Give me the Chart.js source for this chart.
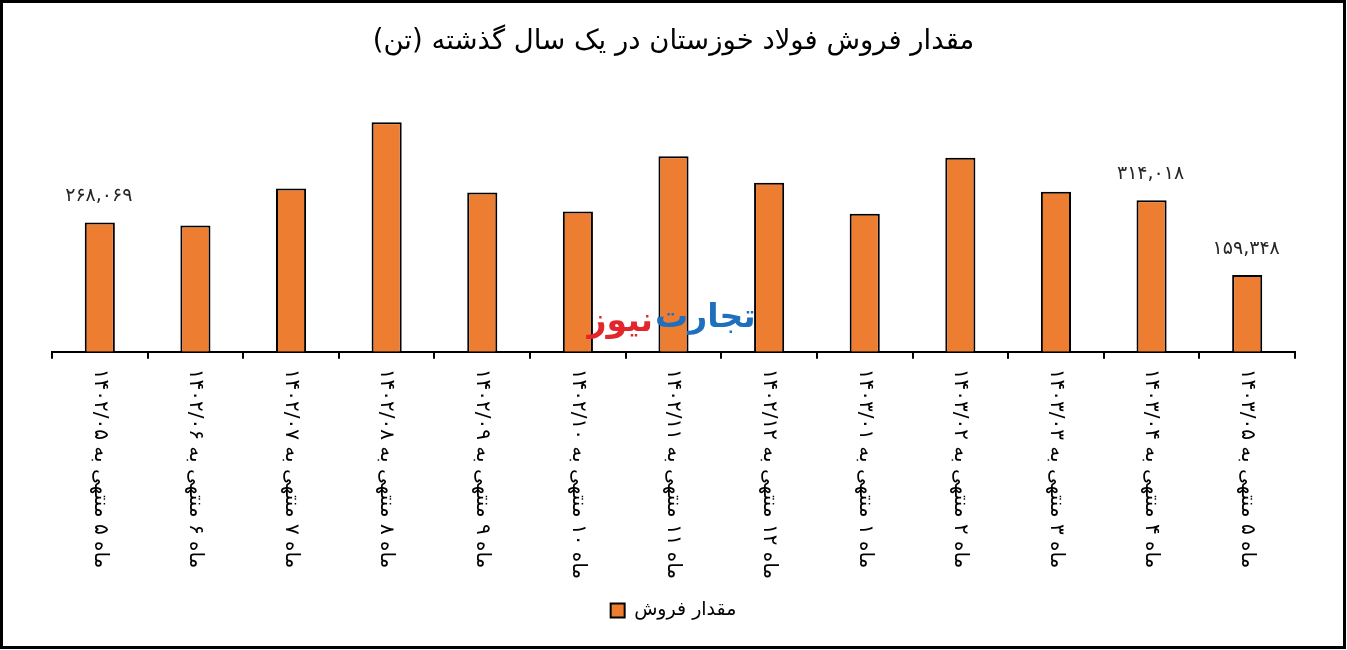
<!DOCTYPE html>
<html lang="fa">
<head>
<meta charset="utf-8">
<title>مقدار فروش فولاد خوزستان</title>
<script src="https://cdn.jsdelivr.net/npm/chart.js@4.4.1/dist/chart.umd.min.js"></script>
<style>
  html, body { margin: 0; padding: 0; background: #fff; overflow: hidden; }
  .chart-box { position: relative; width: 1347px; height: 650px; }
</style>
</head>
<body>
<div class="chart-box">
  <canvas id="sales"></canvas>
</div>
<script>
const TITLE = 'مقدار فروش فولاد خوزستان در یک سال گذشته (تن)';
const SERIES_NAME = 'مقدار فروش';

const categories = [
  'ماه ۵ منتهی به ۱۴۰۲/۰۵',
  'ماه ۶ منتهی به ۱۴۰۲/۰۶',
  'ماه ۷ منتهی به ۱۴۰۲/۰۷',
  'ماه ۸ منتهی به ۱۴۰۲/۰۸',
  'ماه ۹ منتهی به ۱۴۰۲/۰۹',
  'ماه ۱۰ منتهی به ۱۴۰۲/۱۰',
  'ماه ۱۱ منتهی به ۱۴۰۲/۱۱',
  'ماه ۱۲ منتهی به ۱۴۰۲/۱۲',
  'ماه ۱ منتهی به ۱۴۰۳/۰۱',
  'ماه ۲ منتهی به ۱۴۰۳/۰۲',
  'ماه ۳ منتهی به ۱۴۰۳/۰۳',
  'ماه ۴ منتهی به ۱۴۰۳/۰۴',
  'ماه ۵ منتهی به ۱۴۰۳/۰۵'
];

// tons; only three bars carry a printed value in the source
const salesValues = [268069, 261800, 338700, 475900, 330400, 290900, 405200, 350500, 286100, 402500, 331900, 314018, 159348];
const labelledBars = [0, 11, 12];

const FONT = "'DejaVu Sans', 'Noto Sans', sans-serif";
const ORANGE = '#ED7D31';

const toPersianDigits = (str) => str.replace(/[0-9]/g, (d) => '۰۱۲۳۴۵۶۷۸۹'[d]);
const formatValue = (v) => toPersianDigits(v.toLocaleString('en-US'));

const frame = {
  id: 'frame',
  beforeDraw(chart) {
    const {ctx, width, height} = chart;
    ctx.save();
    ctx.fillStyle = '#fff';
    ctx.fillRect(0, 0, width, height);
    ctx.restore();
  },
  afterDraw(chart) {
    const {ctx, width, height} = chart;
    ctx.save();
    ctx.strokeStyle = '#000';
    ctx.lineWidth = 3;
    ctx.strokeRect(1.5, 1.5, width - 4, height - 4);
    ctx.restore();
  }
};

const verticalLabels = {
  id: 'verticalLabels',
  afterDraw(chart) {
    const {ctx} = chart;
    const xScale = chart.scales.x;
    ctx.save();
    ctx.font = '20px ' + FONT;
    ctx.fillStyle = '#000';
    ctx.direction = 'rtl';
    ctx.textAlign = 'left';
    ctx.textBaseline = 'middle';
    categories.forEach((label, i) => {
      ctx.save();
      ctx.translate(xScale.getPixelForValue(i), xScale.top + 17);
      ctx.rotate(Math.PI / 2);
      ctx.fillText(label, 0, 0);
      ctx.restore();
    });
    ctx.restore();
  }
};

const valueLabels = {
  id: 'valueLabels',
  afterDatasetsDraw(chart) {
    const {ctx} = chart;
    const bars = chart.getDatasetMeta(0).data;
    ctx.save();
    ctx.font = '19px ' + FONT;
    ctx.fillStyle = '#262626';
    ctx.textAlign = 'center';
    ctx.textBaseline = 'middle';
    labelledBars.forEach((i) => {
      ctx.fillText(formatValue(salesValues[i]), bars[i].x - 1, bars[i].y - 26);
    });
    ctx.restore();
  }
};

const watermark = {
  id: 'watermark',
  afterDatasetsDraw(chart) {
    const {ctx} = chart;
    ctx.save();
    ctx.font = 'bold 33px ' + FONT;
    ctx.textBaseline = 'middle';
    ctx.fillStyle = '#1f6fbf';
    ctx.textAlign = 'left';
    ctx.fillText('تجارت', 655, 318);
    ctx.fillStyle = '#e3262b';
    ctx.textAlign = 'right';
    ctx.fillText('نیوز', 653, 322);
    ctx.restore();
  }
};

new Chart(document.getElementById('sales'), {
  type: 'bar',
  data: {
    labels: categories,
    datasets: [{
      label: SERIES_NAME,
      data: salesValues,
      backgroundColor: ORANGE,
      borderColor: '#000',
      borderWidth: 2,
      categoryPercentage: 1,
      barPercentage: 0.315
    }]
  },
  options: {
    responsive: true,
    maintainAspectRatio: false,
    animation: false,
    devicePixelRatio: 1,
    layout: {padding: {top: 3, left: 52, right: 52, bottom: 20}},
    scales: {
      x: {
        grid: {display: true, drawOnChartArea: false, drawTicks: true, tickLength: 7, color: '#000', lineWidth: 2},
        border: {display: true, color: '#000', width: 2},
        ticks: {display: false},
        afterFit: (scale) => { scale.height = 239.3; }
      },
      y: {
        display: false,
        min: 0,
        max: 520000
      }
    },
    plugins: {
      title: {
        display: true,
        text: TITLE,
        color: '#000',
        font: {family: FONT, size: 27.5, weight: 'normal'},
        padding: {top: 22, bottom: 43}
      },
      legend: {
        position: 'bottom',
        labels: {
          color: '#000',
          font: {family: FONT, size: 19},
          boxWidth: 14,
          boxHeight: 14,
          padding: 10
        }
      },
      tooltip: {enabled: false}
    }
  },
  plugins: [frame, valueLabels, watermark, verticalLabels]
});
</script>
</body>
</html>
